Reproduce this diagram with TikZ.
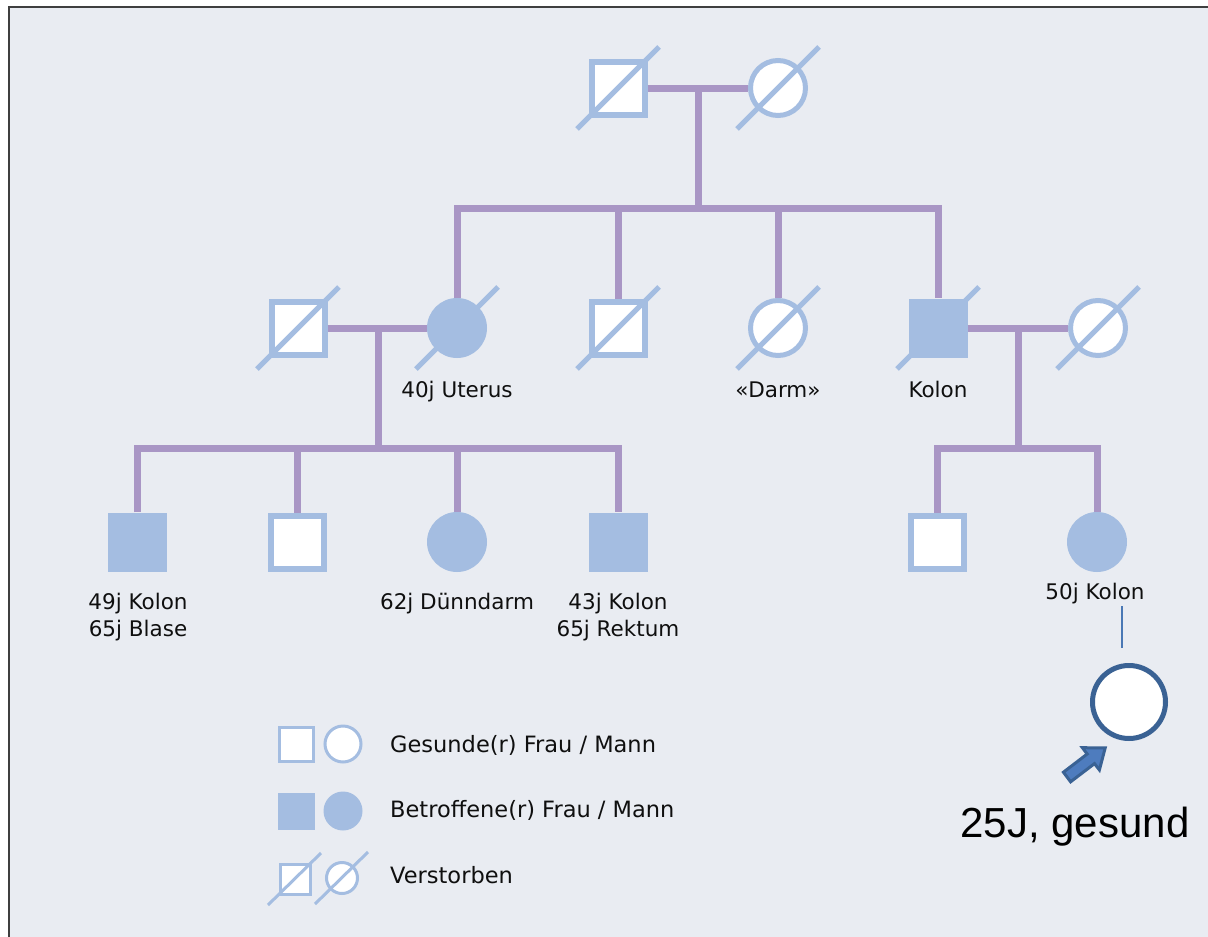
\documentclass[tikz,border=0pt]{standalone}
\usepackage{fontspec}
\setmainfont{DejaVu Sans}
\newfontfamily\arialfont{Liberation Sans}
\usetikzlibrary{calc}
\definecolor{paper}{HTML}{E9ECF2}
\definecolor{kin}{HTML}{A996C5}
\definecolor{sym}{HTML}{A4BDE1}
\definecolor{framec}{HTML}{3F3F3F}
\definecolor{probc}{HTML}{3A6294}
\definecolor{probline}{HTML}{4A78B5}
\definecolor{arrowfill}{HTML}{4E7CBE}
\definecolor{ink}{HTML}{0F0F0F}

% cross-out line for a deceased person: \deceased[half length]{node}
\newcommand\deceased[2][41]{\draw[deadline] ($(#2)+(-#1,#1)$) -- ($(#2)+(#1,-#1)$);}

\begin{document}
\begin{tikzpicture}[x=1pt,y=-1pt,
  kinline/.style={draw=kin, line width=7pt},
  male/.style={rectangle, draw=sym, fill=white, line width=6pt, minimum size=53pt, inner sep=0pt},
  malex/.style={rectangle, fill=sym, minimum size=59pt, inner sep=0pt},
  female/.style={circle, draw=sym, fill=white, line width=5pt, minimum size=55pt, inner sep=0pt},
  femalex/.style={circle, fill=sym, minimum size=60pt, inner sep=0pt},
  deadline/.style={draw=sym, line width=5pt},
  lgmale/.style={rectangle, draw=sym, fill=white, line width=3pt, minimum size=34pt, inner sep=0pt},
  lgmalex/.style={rectangle, fill=sym, minimum size=37pt, inner sep=0pt},
  lgfemale/.style={circle, draw=sym, fill=white, line width=3pt, minimum size=36pt, inner sep=0pt},
  lgfemalex/.style={circle, fill=sym, minimum size=39pt, inner sep=0pt},
  lgdead/.style={draw=sym, line width=3pt},
  tag/.style={font=\fontsize{21.5}{25}\selectfont, text=ink, anchor=base, inner sep=0pt},
  lgtext/.style={font=\fontsize{22.5}{27}\selectfont, text=ink, anchor=base west, inner sep=0pt}]

\useasboundingbox (0,0) rectangle (1208,937);
\fill[white] (0,0) rectangle (1208,937);
\fill[paper] (9,7) rectangle (1208,937);
\draw[framec, line width=2.5pt] (9,937) -- (9,7) -- (1208,7);

% generation I
\node[male] (gf) at (618,88) {};
\node[female] (gm) at (778,88) {};
\deceased{gf} \deceased{gm}

% generation II
\node[male] (sp1) at (298,328) {};
\node[femalex] (a) at (457,328) {};
\node[male] (b) at (618,328) {};
\node[female] (c) at (778,328) {};
\node[malex] (d) at (938,328) {};
\node[female] (sp2) at (1098,328) {};
\deceased{sp1} \deceased{a} \deceased{b} \deceased{c} \deceased{d} \deceased{sp2}

\node[tag] (la) at (457,397) {40j Uterus};
\node[tag] (lc) at (778,397) {«Darm»};
\node[tag] (ld) at (938,397) {Kolon};

% generation III
\node[malex] (e) at (137,542) {};
\node[male] (f) at (297,542) {};
\node[femalex] (g) at (457,542) {};
\node[malex] (h) at (618,542) {};
\node[male] (i) at (937,542) {};
\node[femalex] (j) at (1097,542) {};

\node[tag] (le1) at (138,609) {49j Kolon};
\node[tag] (le2) at (138,636) {65j Blase};
\node[tag] (lg) at (457,609) {62j Dünndarm};
\node[tag] (lh1) at (618,609) {43j Kolon};
\node[tag] (lh2) at (618,636) {65j Rektum};
\node[tag] (lj) at (1095,599) {50j Kolon};

% kinship lines
\coordinate (u1) at (698,88);  \coordinate (s1) at (698,208);
\coordinate (u2) at (378,328); \coordinate (s2) at (378,448);
\coordinate (u3) at (1018,328); \coordinate (s3) at (1018,448);

\draw[kinline] (gf.east) -- (gm.west);
\draw[kinline] (u1) -- (s1);
\draw[kinline] (a.north) -- (a.north |- s1) -- (d.north |- s1) -- (d.north);
\draw[kinline] (b.north |- s1) -- (b.north);
\draw[kinline] (c.north |- s1) -- (c.north);

\draw[kinline] (sp1.east) -- (a.west);
\draw[kinline] (u2) -- (s2);
\draw[kinline] (e.north) -- (e.north |- s2) -- (h.north |- s2) -- (h.north);
\draw[kinline] (f.north |- s2) -- (f.north);
\draw[kinline] (g.north |- s2) -- (g.north);

\draw[kinline] (d.east) -- (sp2.west);
\draw[kinline] (u3) -- (s3);
\draw[kinline] (i.north) -- (i.north |- s3) -- (j.north |- s3) -- (j.north);

% proband
\coordinate (pa) at (1122,606);
\coordinate (pb) at (1122,648);
\draw[probline, line width=1.5pt] (pa) -- (pb);
\node[circle, draw=probc, fill=white, line width=5pt, minimum size=73pt, inner sep=0pt] (pro) at (1129,702) {};
\draw[draw=probc, fill=arrowfill, line width=3pt, line join=miter]
  (1070.6,781.8) -- (1094.5,763.6) -- (1099.4,769.9) -- (1105.2,747.9)
  -- (1082.4,747.7) -- (1087.2,754.0) -- (1063.4,772.2) -- cycle;
\node[font=\arialfont\fontsize{42}{48}\selectfont, text=black, anchor=base, inner sep=0pt] (plab) at (1075,837) {25J, gesund};

% legend
\node[lgmale] (k1) at (296,744) {};
\node[lgfemale] (k2) at (343,744) {};
\node[lgmalex] (k3) at (296,811) {};
\node[lgfemalex] (k4) at (343,811) {};
\node[rectangle, draw=sym, fill=white, line width=3pt, minimum size=30pt, inner sep=0pt] (k5) at (295,879) {};
\node[circle, draw=sym, fill=white, line width=3pt, minimum size=31pt, inner sep=0pt] (k6) at (342,878) {};
\draw[lgdead] ($(k5)+(-27,26)$) -- ($(k5)+(26,-26)$);
\draw[lgdead] ($(k6)+(-27,26)$) -- ($(k6)+(26,-26)$);

\node[lgtext] (t1) at (390,752) {Gesunde(r) Frau / Mann};
\node[lgtext] (t2) at (390,817) {Betroffene(r) Frau / Mann};
\node[lgtext] (t3) at (390,883) {Verstorben};
\end{tikzpicture}
\end{document}
